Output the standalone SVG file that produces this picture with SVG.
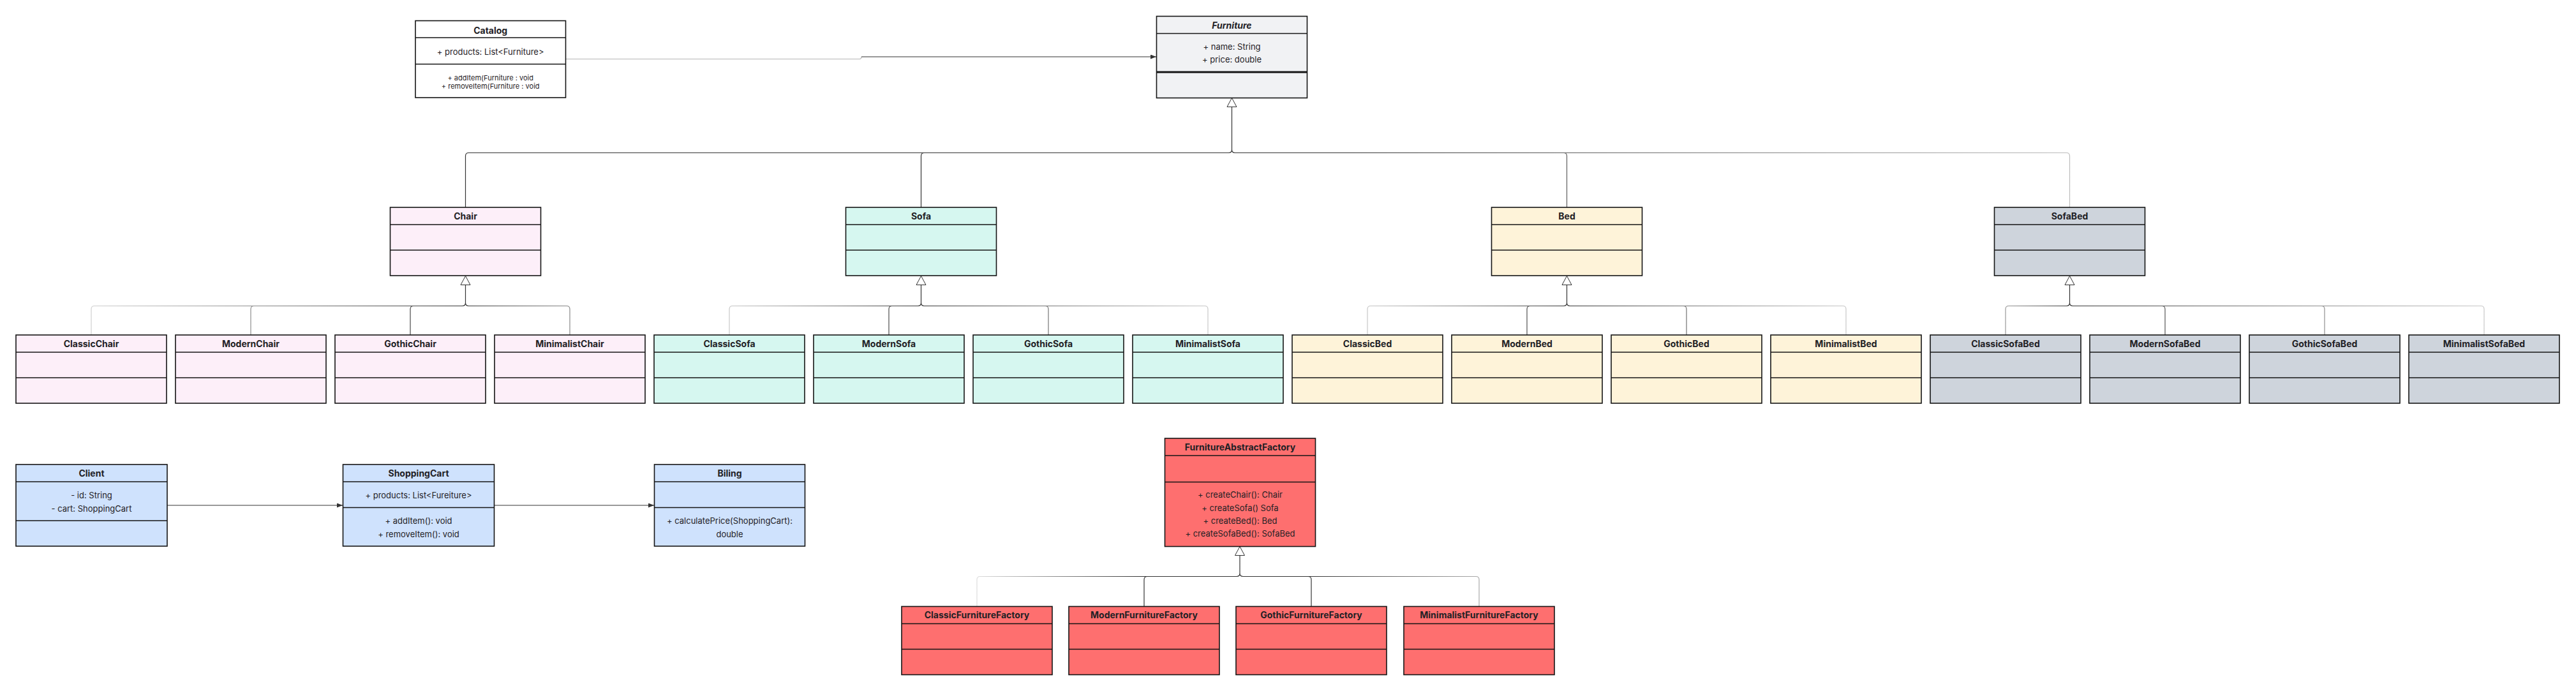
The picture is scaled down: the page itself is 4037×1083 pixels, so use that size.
<svg xmlns="http://www.w3.org/2000/svg" xmlns:xlink="http://www.w3.org/1999/xlink" width="4037" height="1083" viewBox="0 0 4037 1083">
<style>
  .node rect { stroke: #151515; stroke-width: 1.6; }
  .node line { stroke: #151515; stroke-width: 1.6; }
  .white rect { fill: #ffffff; }
  .grey rect { fill: #f1f2f4; }
  .pink rect { fill: #fdeff9; }
  .teal rect { fill: #d6f7f0; }
  .cream rect { fill: #fef3d9; }
  .slate rect { fill: #ced4dc; }
  .blue rect { fill: #cfe2fd; }
  .red rect { fill: #fe6f6f; }
  text { font-family: Inter, "Liberation Sans", Arial, sans-serif; fill: #1f2125; text-anchor: middle; }
  .t { font-size: 14px; font-weight: 700; }
  .a { font-size: 13px; }
  .s { font-size: 11px; }
  .conn path { fill: none; stroke-width: 1.2; }
  .tri { fill: #ffffff; stroke: #333333; stroke-width: 1; }
</style>
<defs>
  <marker id="arr" markerWidth="9" markerHeight="7" refX="9" refY="3.5" orient="auto" markerUnits="userSpaceOnUse">
    <path d="M0,0 L9,3.5 L0,7 Z" fill="#333333"/>
  </marker>
  <path id="tri" d="M0,0 L7.5,14 L-7.5,14 Z"/>
  <linearGradient id="gTop" gradientUnits="userSpaceOnUse" x1="729" y1="0" x2="3244" y2="0">
    <stop offset="0" stop-color="#333"/><stop offset="0.55" stop-color="#333"/><stop offset="1" stop-color="#bdbdbd"/>
  </linearGradient>
  <linearGradient id="gChair" gradientUnits="userSpaceOnUse" x1="143" y1="0" x2="893" y2="0">
    <stop offset="0" stop-color="#d0d0d0"/><stop offset="0.78" stop-color="#333"/><stop offset="1" stop-color="#888"/>
  </linearGradient>
  <linearGradient id="gSofa" gradientUnits="userSpaceOnUse" x1="1143" y1="0" x2="1893" y2="0">
    <stop offset="0" stop-color="#c8c8c8"/><stop offset="0.4" stop-color="#333"/><stop offset="1" stop-color="#c8c8c8"/>
  </linearGradient>
  <linearGradient id="gBed" gradientUnits="userSpaceOnUse" x1="2143" y1="0" x2="2893" y2="0">
    <stop offset="0" stop-color="#c8c8c8"/><stop offset="0.417" stop-color="#333"/><stop offset="1" stop-color="#c8c8c8"/>
  </linearGradient>
  <linearGradient id="gSofaBed" gradientUnits="userSpaceOnUse" x1="3143" y1="0" x2="3893" y2="0">
    <stop offset="0" stop-color="#999"/><stop offset="0.134" stop-color="#333"/><stop offset="1" stop-color="#c8c8c8"/>
  </linearGradient>
  <linearGradient id="gFactory" gradientUnits="userSpaceOnUse" x1="1531" y1="0" x2="2318" y2="0">
    <stop offset="0" stop-color="#dddddd"/><stop offset="0.33" stop-color="#333"/><stop offset="0.66" stop-color="#333"/><stop offset="1" stop-color="#aaaaaa"/>
  </linearGradient>
</defs>
<rect x="0" y="0" width="4037" height="1083" fill="#ffffff"/>

<g id="connectors" class="conn">
  <!-- Catalog -> Furniture (association) -->
  <path id="catalog-furniture-a" d="M887,92.5 H1347 Q1350,92.5 1350,89" stroke="#b5b5b5"/>
  <path id="catalog-furniture-b" d="M1350,89 H1812" stroke="#333" marker-end="url(#arr)"/>
  <!-- Client -> ShoppingCart -> Biling -->
  <path id="client-cart" d="M262,792 H537" stroke="#333" marker-end="url(#arr)"/>
  <path id="cart-biling" d="M775,792 H1025" stroke="#333" marker-end="url(#arr)"/>

  <!-- Furniture generalization: Chair, Sofa, Bed, SofaBed -->
  <path id="gen-furniture" stroke="url(#gTop)" d="M729.5,325 V244.5 Q729.5,239.5 734.5,239.5 H1925.5 Q1930.5,239.5 1930.5,234.5 V167.5 M1443.5,325 V244.5 Q1443.5,239.5 1448.5,239.5 M2455.5,325 V244.5 Q2455.5,239.5 2450.5,239.5 M3243.5,325 V244.5 Q3243.5,239.5 3238.5,239.5 H1935.5 Q1930.5,239.5 1930.5,234.5"/>
  <!-- Chair family -->
  <path id="gen-chair" stroke="url(#gChair)" d="M143,525 V484.5 Q143,479.5 148,479.5 H724.5 Q729.5,479.5 729.5,474.5 V446.5 M393,525 V484.5 Q393,479.5 398,479.5 M643,525 V484.5 Q643,479.5 648,479.5 M893,525 V484.5 Q893,479.5 888,479.5 H734.5 Q729.5,479.5 729.5,474.5"/>
  <!-- Sofa family -->
  <path id="gen-sofa" stroke="url(#gSofa)" d="M1143,525 V484.5 Q1143,479.5 1148,479.5 H1438.5 Q1443.5,479.5 1443.5,474.5 V446.5 M1393,525 V484.5 Q1393,479.5 1398,479.5 M1643,525 V484.5 Q1643,479.5 1638,479.5 M1893,525 V484.5 Q1893,479.5 1888,479.5 H1448.5 Q1443.5,479.5 1443.5,474.5"/>
  <!-- Bed family -->
  <path id="gen-bed" stroke="url(#gBed)" d="M2143,525 V484.5 Q2143,479.5 2148,479.5 H2450.5 Q2455.5,479.5 2455.5,474.5 V446.5 M2393,525 V484.5 Q2393,479.5 2398,479.5 M2643,525 V484.5 Q2643,479.5 2638,479.5 M2893,525 V484.5 Q2893,479.5 2888,479.5 H2460.5 Q2455.5,479.5 2455.5,474.5"/>
  <!-- SofaBed family -->
  <path id="gen-sofabed" stroke="url(#gSofaBed)" d="M3143,525 V484.5 Q3143,479.5 3148,479.5 H3238.5 Q3243.5,479.5 3243.5,474.5 V446.5 M3393,525 V484.5 Q3393,479.5 3388,479.5 M3643,525 V484.5 Q3643,479.5 3638,479.5 M3893,525 V484.5 Q3893,479.5 3888,479.5 H3248.5 Q3243.5,479.5 3243.5,474.5"/>
  <!-- Factory family -->
  <path id="gen-factory" stroke="url(#gFactory)" d="M1531,950.5 V908.5 Q1531,903.5 1536,903.5 H1938 Q1943,903.5 1943,898.5 V870.5 M1793,950.5 V908.5 Q1793,903.5 1798,903.5 M2055,950.5 V908.5 Q2055,903.5 2050,903.5 M2318,950.5 V908.5 Q2318,903.5 2313,903.5 H1948 Q1943,903.5 1943,898.5"/>
  <!-- generalization triangles -->
  <use href="#tri" xlink:href="#tri" x="1930.5" y="153.5" class="tri"/>
  <use href="#tri" xlink:href="#tri" x="729.5" y="432.5" class="tri"/>
  <use href="#tri" xlink:href="#tri" x="1443.5" y="432.5" class="tri"/>
  <use href="#tri" xlink:href="#tri" x="2455.5" y="432.5" class="tri"/>
  <use href="#tri" xlink:href="#tri" x="3243.5" y="432.5" class="tri"/>
  <use href="#tri" xlink:href="#tri" x="1943" y="856.5" class="tri"/>
</g>

<!-- Top row -->
<g id="catalog" class="node white">
  <rect x="651" y="32.5" width="235.5" height="120.5"/>
  <line x1="651" y1="59" x2="886.5" y2="59"/>
  <line x1="651" y1="100.5" x2="886.5" y2="100.5"/>
  <text class="t" x="768.7" y="52.5">Catalog</text>
  <text class="a" x="768.7" y="85.7">+ products: List&lt;Furniture&gt;</text>
  <text class="s" x="768.7" y="125.6">+ addItem(Furniture : void</text>
  <text class="s" x="768.7" y="139">+ removeItem(Furniture : void</text>
</g>
<g id="furniture" class="node grey">
  <rect x="1812.5" y="25.5" width="236" height="128"/>
  <line x1="1812.5" y1="52.5" x2="2048.5" y2="52.5"/>
  <line x1="1812.5" y1="113" x2="2048.5" y2="113" style="stroke-width:3.2"/>
  <text class="t" x="1930.5" y="44.5" font-style="italic">Furniture</text>
  <text class="a" x="1930.5" y="77.8">+ name: String</text>
  <text class="a" x="1930.5" y="98.3">+ price: double</text>
</g>

<!-- Parents -->
<g id="chair" class="node pink">
  <rect x="611.5" y="325" width="236" height="107"/>
  <line x1="611.5" y1="352" x2="847.5" y2="352"/>
  <line x1="611.5" y1="392" x2="847.5" y2="392"/>
  <text class="t" x="729.5" y="344">Chair</text>
</g>
<g id="sofa" class="node teal">
  <rect x="1325.5" y="325" width="236" height="107"/>
  <line x1="1325.5" y1="352" x2="1561.5" y2="352"/>
  <line x1="1325.5" y1="392" x2="1561.5" y2="392"/>
  <text class="t" x="1443.5" y="344">Sofa</text>
</g>
<g id="bed" class="node cream">
  <rect x="2337.5" y="325" width="236" height="107"/>
  <line x1="2337.5" y1="352" x2="2573.5" y2="352"/>
  <line x1="2337.5" y1="392" x2="2573.5" y2="392"/>
  <text class="t" x="2455.5" y="344">Bed</text>
</g>
<g id="sofabed" class="node slate">
  <rect x="3125.5" y="325" width="236" height="107"/>
  <line x1="3125.5" y1="352" x2="3361.5" y2="352"/>
  <line x1="3125.5" y1="392" x2="3361.5" y2="392"/>
  <text class="t" x="3243.5" y="344">SofaBed</text>
</g>

<!-- Children -->
<g id="classic-chair" class="node pink"><rect x="25" y="525" width="236" height="107"/><line x1="25" y1="552" x2="261" y2="552"/><line x1="25" y1="592" x2="261" y2="592"/><text class="t" x="143" y="543.5">ClassicChair</text></g>
<g id="modern-chair" class="node pink"><rect x="275" y="525" width="236" height="107"/><line x1="275" y1="552" x2="511" y2="552"/><line x1="275" y1="592" x2="511" y2="592"/><text class="t" x="393" y="543.5">ModernChair</text></g>
<g id="gothic-chair" class="node pink"><rect x="525" y="525" width="236" height="107"/><line x1="525" y1="552" x2="761" y2="552"/><line x1="525" y1="592" x2="761" y2="592"/><text class="t" x="643" y="543.5">GothicChair</text></g>
<g id="minimalist-chair" class="node pink"><rect x="775" y="525" width="236" height="107"/><line x1="775" y1="552" x2="1011" y2="552"/><line x1="775" y1="592" x2="1011" y2="592"/><text class="t" x="893" y="543.5">MinimalistChair</text></g>

<g id="classic-sofa" class="node teal"><rect x="1025" y="525" width="236" height="107"/><line x1="1025" y1="552" x2="1261" y2="552"/><line x1="1025" y1="592" x2="1261" y2="592"/><text class="t" x="1143" y="543.5">ClassicSofa</text></g>
<g id="modern-sofa" class="node teal"><rect x="1275" y="525" width="236" height="107"/><line x1="1275" y1="552" x2="1511" y2="552"/><line x1="1275" y1="592" x2="1511" y2="592"/><text class="t" x="1393" y="543.5">ModernSofa</text></g>
<g id="gothic-sofa" class="node teal"><rect x="1525" y="525" width="236" height="107"/><line x1="1525" y1="552" x2="1761" y2="552"/><line x1="1525" y1="592" x2="1761" y2="592"/><text class="t" x="1643" y="543.5">GothicSofa</text></g>
<g id="minimalist-sofa" class="node teal"><rect x="1775" y="525" width="236" height="107"/><line x1="1775" y1="552" x2="2011" y2="552"/><line x1="1775" y1="592" x2="2011" y2="592"/><text class="t" x="1893" y="543.5">MinimalistSofa</text></g>

<g id="classic-bed" class="node cream"><rect x="2025" y="525" width="236" height="107"/><line x1="2025" y1="552" x2="2261" y2="552"/><line x1="2025" y1="592" x2="2261" y2="592"/><text class="t" x="2143" y="543.5">ClassicBed</text></g>
<g id="modern-bed" class="node cream"><rect x="2275" y="525" width="236" height="107"/><line x1="2275" y1="552" x2="2511" y2="552"/><line x1="2275" y1="592" x2="2511" y2="592"/><text class="t" x="2393" y="543.5">ModernBed</text></g>
<g id="gothic-bed" class="node cream"><rect x="2525" y="525" width="236" height="107"/><line x1="2525" y1="552" x2="2761" y2="552"/><line x1="2525" y1="592" x2="2761" y2="592"/><text class="t" x="2643" y="543.5">GothicBed</text></g>
<g id="minimalist-bed" class="node cream"><rect x="2775" y="525" width="236" height="107"/><line x1="2775" y1="552" x2="3011" y2="552"/><line x1="2775" y1="592" x2="3011" y2="592"/><text class="t" x="2893" y="543.5">MinimalistBed</text></g>

<g id="classic-sofabed" class="node slate"><rect x="3025" y="525" width="236" height="107"/><line x1="3025" y1="552" x2="3261" y2="552"/><line x1="3025" y1="592" x2="3261" y2="592"/><text class="t" x="3143" y="543.5">ClassicSofaBed</text></g>
<g id="modern-sofabed" class="node slate"><rect x="3275" y="525" width="236" height="107"/><line x1="3275" y1="552" x2="3511" y2="552"/><line x1="3275" y1="592" x2="3511" y2="592"/><text class="t" x="3393" y="543.5">ModernSofaBed</text></g>
<g id="gothic-sofabed" class="node slate"><rect x="3525" y="525" width="236" height="107"/><line x1="3525" y1="552" x2="3761" y2="552"/><line x1="3525" y1="592" x2="3761" y2="592"/><text class="t" x="3643" y="543.5">GothicSofaBed</text></g>
<g id="minimalist-sofabed" class="node slate"><rect x="3775" y="525" width="236" height="107"/><line x1="3775" y1="552" x2="4011" y2="552"/><line x1="3775" y1="592" x2="4011" y2="592"/><text class="t" x="3893" y="543.5">MinimalistSofaBed</text></g>

<!-- Client row -->
<g id="client" class="node blue">
  <rect x="25" y="728" width="237" height="128"/>
  <line x1="25" y1="755" x2="262" y2="755"/>
  <line x1="25" y1="816" x2="262" y2="816"/>
  <text class="t" x="143.5" y="746.5">Client</text>
  <text class="a" x="143.5" y="781.4">- id: String</text>
  <text class="a" x="143.5" y="802">- cart: ShoppingCart</text>
</g>
<g id="shopping-cart" class="node blue">
  <rect x="537.5" y="728" width="237" height="128"/>
  <line x1="537.5" y1="755" x2="774.5" y2="755"/>
  <line x1="537.5" y1="795.5" x2="774.5" y2="795.5"/>
  <text class="t" x="656" y="746.5">ShoppingCart</text>
  <text class="a" x="656" y="781.4">+ products: List&lt;Fureiture&gt;</text>
  <text class="a" x="656" y="821.4">+ addItem(): void</text>
  <text class="a" x="656" y="841.7">+ removeItem(): void</text>
</g>
<g id="biling" class="node blue">
  <rect x="1025.5" y="728" width="236" height="128"/>
  <line x1="1025.5" y1="755" x2="1261.5" y2="755"/>
  <line x1="1025.5" y1="795.5" x2="1261.5" y2="795.5"/>
  <text class="t" x="1143.5" y="746.5">Biling</text>
  <text class="a" x="1143.5" y="821.4">+ calculatePrice(ShoppingCart):</text>
  <text class="a" x="1143.5" y="841.7">double</text>
</g>

<!-- Factory -->
<g id="furniture-abstract-factory" class="node red">
  <rect x="1825.5" y="687" width="236" height="169.5"/>
  <line x1="1825.5" y1="714" x2="2061.5" y2="714"/>
  <line x1="1825.5" y1="755.5" x2="2061.5" y2="755.5"/>
  <text class="t" x="1943.5" y="705.5">FurnitureAbstractFactory</text>
  <text class="a" x="1943.5" y="780.4">+ createChair(): Chair</text>
  <text class="a" x="1943.5" y="800.7">+ createSofa() Sofa</text>
  <text class="a" x="1943.5" y="821">+ createBed(): Bed</text>
  <text class="a" x="1943.5" y="841.4">+ createSofaBed(): SofaBed</text>
</g>
<g id="classic-furniture-factory" class="node red"><rect x="1413" y="950.5" width="236" height="107"/><line x1="1413" y1="977.5" x2="1649" y2="977.5"/><line x1="1413" y1="1017.5" x2="1649" y2="1017.5"/><text class="t" x="1531" y="969">ClassicFurnitureFactory</text></g>
<g id="modern-furniture-factory" class="node red"><rect x="1675" y="950.5" width="236" height="107"/><line x1="1675" y1="977.5" x2="1911" y2="977.5"/><line x1="1675" y1="1017.5" x2="1911" y2="1017.5"/><text class="t" x="1793" y="969">ModernFurnitureFactory</text></g>
<g id="gothic-furniture-factory" class="node red"><rect x="1937" y="950.5" width="236" height="107"/><line x1="1937" y1="977.5" x2="2173" y2="977.5"/><line x1="1937" y1="1017.5" x2="2173" y2="1017.5"/><text class="t" x="2055" y="969">GothicFurnitureFactory</text></g>
<g id="minimalist-furniture-factory" class="node red"><rect x="2200" y="950.5" width="236" height="107"/><line x1="2200" y1="977.5" x2="2436" y2="977.5"/><line x1="2200" y1="1017.5" x2="2436" y2="1017.5"/><text class="t" x="2318" y="969">MinimalistFurnitureFactory</text></g>
</svg>
